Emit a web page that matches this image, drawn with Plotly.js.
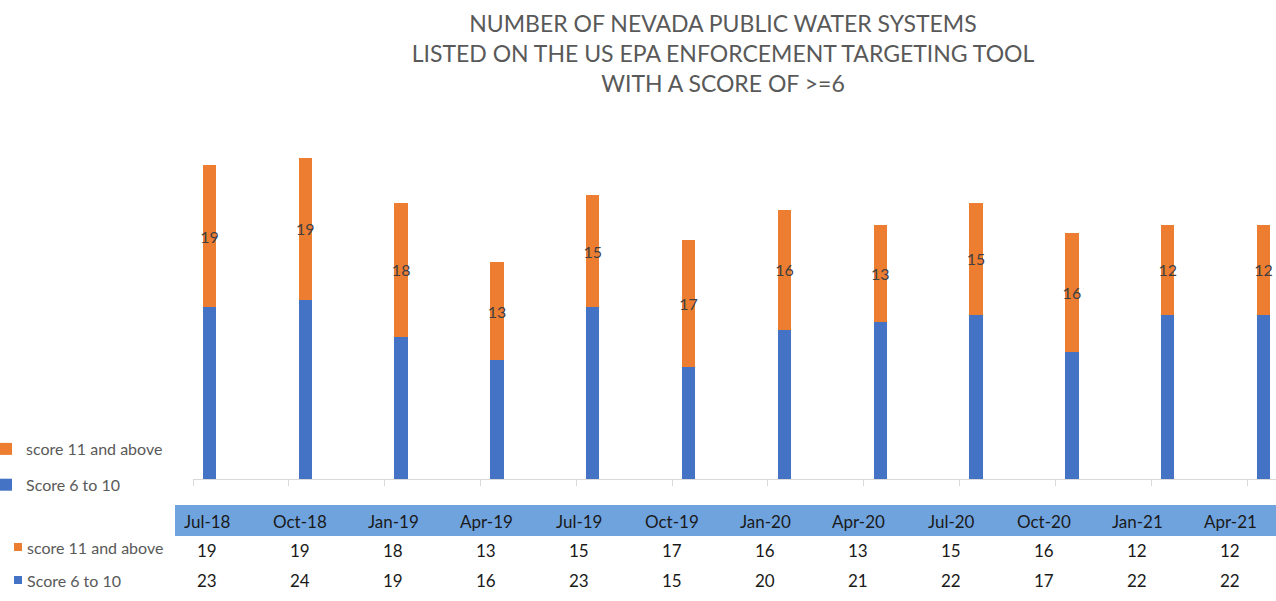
<!DOCTYPE html>
<html>
<head>
<meta charset="utf-8">
<script src="https://cdn.plot.ly/plotly-3.0.1.min.js"></script>
<style>html,body{margin:0;padding:0;background:#fff;}#chart{width:1276px;height:601px;}</style>
</head>
<body>
<div id="chart"></div>
<script>
const categories = ["Jul-18","Oct-18","Jan-19","Apr-19","Jul-19","Oct-19","Jan-20","Apr-20","Jul-20","Oct-20","Jan-21","Apr-21"];
const score6to10 = [23,24,19,16,23,15,20,21,22,17,22,22];
const score11above = [19,19,18,13,15,17,16,13,15,16,12,12];
const seriesNames = ["Score 6 to 10","score 11 and above"];
const titleLines = ["NUMBER OF NEVADA PUBLIC WATER SYSTEMS","LISTED ON THE US EPA ENFORCEMENT TARGETING TOOL","WITH A SCORE OF >=6"];

const W = 1276, H = 601, L = 193, T = 143, B = 122;
const plotH = H - T - B, plotW = W - L;
const py = v => (H - B - v) / plotH;
const px = v => (v - L) / plotW;
const idx = categories.map((c, i) => i);
const colX = i => px(207 + 93 * i);   // table column centres (table layout)
const BLUE = "#4472C4", ORANGE = "#ED7D31";
const FONT = "Lato, 'Open Sans', sans-serif";

const traces = [
  {type: "bar", name: seriesNames[0], x: idx, y: score6to10, width: 0.14,
   marker: {color: BLUE, line: {width: 0}}, legendgroup: "a", legendrank: 2, hoverinfo: "skip"},
  {type: "bar", name: seriesNames[1], x: idx, y: score11above, width: 0.14,
   marker: {color: ORANGE, line: {width: 0}}, legendgroup: "b", legendrank: 1, hoverinfo: "skip",
   text: score11above.map(String), textposition: "inside", insidetextanchor: "middle",
   textangle: 0, constraintext: "none",
   insidetextfont: {family: FONT, size: 16, color: "#404040"}}
];

const annotations = [];
const shapes = [];
// table header band
shapes.push({type: "rect", xref: "paper", yref: "paper", x0: px(175), x1: 1, y0: py(536), y1: py(505),
  fillcolor: "#6FA3DE", line: {width: 0}, layer: "below"});
const tfont = {family: FONT, size: 17, color: "#1a1a1a"};
categories.forEach((c, i) => {
  annotations.push({xref: "paper", yref: "paper", x: colX(i), y: py(521), text: c, showarrow: false,
    font: tfont, xanchor: "center", yanchor: "middle"});
  annotations.push({xref: "paper", yref: "paper", x: colX(i), y: py(550), text: String(score11above[i]), showarrow: false,
    font: tfont, xanchor: "center", yanchor: "middle"});
  annotations.push({xref: "paper", yref: "paper", x: colX(i), y: py(580), text: String(score6to10[i]), showarrow: false,
    font: tfont, xanchor: "center", yanchor: "middle"});
});
// table row labels
[[seriesNames[1], ORANGE, 547], [seriesNames[0], BLUE, 580]].forEach(([t, col, y]) => {
  shapes.push({type: "rect", xref: "paper", yref: "paper", x0: px(14), x1: px(22), y0: py(y + 4), y1: py(y - 4),
    fillcolor: col, line: {width: 0}});
  annotations.push({xref: "paper", yref: "paper", x: px(25), y: py(y), text: t, showarrow: false,
    xanchor: "left", yanchor: "middle", font: {family: FONT, size: 16, color: "#595959"}});
});

const layout = {
  width: W, height: H,
  margin: {l: L, r: 0, t: T, b: B, pad: 0, autoexpand: false},
  paper_bgcolor: "#fff", plot_bgcolor: "#fff",
  barmode: "stack",
  title: {text: titleLines.join("<br>"), x: 723 / W, xanchor: "center", xref: "container",
    y: 1 - 32 / H, yanchor: "top", yref: "container", automargin: false,
    font: {family: FONT, size: 23, color: "#595959"}},
  xaxis: {range: [-0.172, 11.13], showgrid: false, zeroline: false, showline: true,
    linecolor: "#d9d9d9", linewidth: 1, ticks: "outside", ticklen: 6, tickcolor: "#d9d9d9",
    tickmode: "array", tickvals: idx.map(i => i - 0.172), ticktext: idx.map(() => ""),
    showticklabels: false, fixedrange: true},
  yaxis: {range: [0, 45], visible: false, fixedrange: true},
  showlegend: true,
  legend: {x: px(-14), xanchor: "left", y: py(432), yanchor: "top", traceorder: "grouped",
    tracegroupgap: 12, font: {family: FONT, size: 16, color: "#595959"}, bgcolor: "rgba(0,0,0,0)",
    itemwidth: 30},
  annotations: annotations,
  shapes: shapes
};

Plotly.newPlot("chart", traces, layout, {staticPlot: true, displayModeBar: false});
</script>
</body>
</html>
